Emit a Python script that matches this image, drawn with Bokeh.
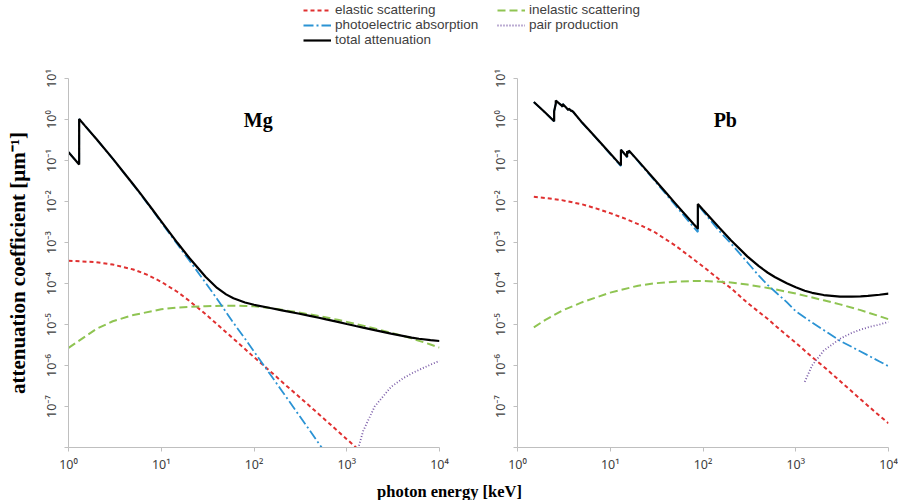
from bokeh.plotting import figure
from bokeh.layouts import column, row
from bokeh.models import FixedTicker, CustomJSTickFormatter, Label, Legend, LegendItem
from bokeh.embed import file_html
from bokeh.resources import INLINE

# ---------------- data (photon energy in keV, attenuation in 1/um) ----------------
X_TICKS = [1, 10, 100, 1000, 10000]
X_TICK_LABELS = ["10⁰", "10¹", "10²", "10³", "10⁴"]
Y_TICKS = [1e-8, 1e-7, 1e-6, 1e-5, 1e-4, 1e-3, 1e-2, 1e-1, 1e0, 1e1]
Y_TICK_LABELS = ["", "10⁻⁷", "10⁻⁶", "10⁻⁵", "10⁻⁴", "10⁻³", "10⁻²", "10⁻¹", "10⁰", "10¹"]

# Mg
MG_TOTAL_E = [1.0, 1.303, 1.303, 1.5, 2, 3, 4, 5, 6, 8, 10, 15, 20, 30, 40, 50, 60, 80, 100,
              150, 200, 300, 400, 500, 600, 800, 1000, 1250, 1500, 2000, 3000, 4000, 5000,
              6000, 8000, 10000]
MG_TOTAL = [0.160, 0.080, 1.03, 0.71, 0.334, 0.111, 0.049, 0.026, 0.0153, 0.00646, 0.00329,
            9.7e-4, 4.25e-4, 1.46e-4, 7.8e-5, 5.43e-5, 4.36e-5, 3.43e-5, 3.03e-5, 2.52e-5,
            2.22e-5, 1.85e-5, 1.62e-5, 1.46e-5, 1.33e-5, 1.16e-5, 1.03e-5, 9.2e-6, 8.4e-6,
            7.3e-6, 6.0e-6, 5.3e-6, 4.8e-6, 4.5e-6, 4.16e-6, 3.96e-6]
MG_PHOTO_E = [1.0, 1.303, 1.303, 1.5, 2, 3, 4, 5, 6, 8, 10, 15, 20, 30, 40, 50, 60, 80, 100,
              150, 200, 300, 400, 500, 600]
MG_PHOTO = [0.1596, 0.0797, 1.03, 0.709, 0.333, 0.110, 0.0485, 0.0255, 0.0149, 0.0062, 0.0031,
            8.9e-4, 3.7e-4, 1.05e-4, 4.2e-5, 2.0e-5, 1.1e-5, 4.5e-6, 2.2e-6, 6.0e-7, 2.4e-7,
            6.5e-8, 2.6e-8, 1.25e-8, 7e-9]
MG_ELASTIC_E = [1, 2, 3, 5, 7, 10, 15, 20, 30, 50, 70, 100, 150, 200, 300, 500, 700, 1000, 1500]
MG_ELASTIC = [3.6e-4, 3.3e-4, 2.9e-4, 2.2e-4, 1.65e-4, 1.1e-4, 6.2e-5, 3.8e-5, 1.8e-5, 6.5e-6,
              3.3e-6, 1.6e-6, 7.2e-7, 4.0e-7, 1.8e-7, 6.5e-8, 3.3e-8, 1.6e-8, 7e-9]
MG_INELASTIC_E = [1, 2, 3, 5, 10, 15, 20, 30, 50, 80, 100, 150, 200, 300, 500, 800, 1000, 1500,
                  2000, 3000, 5000, 8000, 10000]
MG_INELASTIC = [2.7e-6, 7.8e-6, 1.2e-5, 1.7e-5, 2.35e-5, 2.6e-5, 2.7e-5, 2.8e-5, 2.87e-5, 2.84e-5,
                2.78e-5, 2.52e-5, 2.28e-5, 1.98e-5, 1.61e-5, 1.3e-5, 1.16e-5, 9.4e-6, 8.0e-6,
                6.3e-6, 4.6e-6, 3.25e-6, 2.73e-6]
MG_PAIR_E = [1300, 1500, 2000, 3000, 4000, 5000, 6000, 8000, 10000]
MG_PAIR = [8e-9, 2.5e-8, 1.0e-7, 3.0e-7, 4.8e-7, 6.4e-7, 7.8e-7, 1.05e-6, 1.3e-6]

# Pb
PB_TOTAL_E = [1.5, 2.0, 2.484, 2.484, 2.535, 2.586, 2.586, 3.0, 3.066, 3.066, 3.301, 3.554, 3.554,
              3.7, 3.851, 3.851, 4, 5, 6, 8, 10, 13.035, 13.035, 15, 15.2, 15.2, 15.53, 15.86,
              15.86, 20, 30, 40, 50, 60, 80, 88.0, 88.0, 100, 150, 200, 300, 400, 500, 600, 800,
              1000, 1250, 1500, 2000, 3000, 4000, 5000, 6000, 8000, 10000]
PB_TOTAL = [2.67, 1.46, 0.909, 1.586, 1.959, 2.42, 2.89, 2.19, 2.05, 2.40, 2.02, 1.69, 1.85, 1.72,
            1.58, 1.65, 1.52, 0.829, 0.530, 0.260, 0.148, 0.0761, 0.184, 0.127, 0.122, 0.169,
            0.161, 0.153, 0.176, 0.098, 0.0344, 0.0163, 0.00913, 0.0057, 0.00275, 0.00217,
            0.00872, 0.0063, 0.00229, 0.00113, 4.58e-4, 2.64e-4, 1.83e-4, 1.42e-4, 1.01e-4,
            8.06e-5, 6.67e-5, 5.93e-5, 5.23e-5, 4.81e-5, 4.76e-5, 4.85e-5, 4.98e-5, 5.31e-5, 5.64e-5]
PB_PHOTO_E = [1.5, 2.0, 2.484, 2.484, 2.535, 2.586, 2.586, 3.0, 3.066, 3.066, 3.301, 3.554, 3.554,
              3.7, 3.851, 3.851, 4, 5, 6, 8, 10, 13.035, 13.035, 15, 15.2, 15.2, 15.53, 15.86,
              15.86, 20, 30, 40, 50, 60, 80, 88.0, 88.0, 100, 150, 200, 300, 400, 500, 600, 800,
              1000, 1500, 2000, 3000, 5000, 8000, 10000]
PB_PHOTO = [2.65, 1.45, 0.90, 1.575, 1.95, 2.41, 2.88, 2.18, 2.04, 2.39, 2.01, 1.68, 1.84, 1.71,
            1.57, 1.64, 1.51, 0.82, 0.524, 0.255, 0.143, 0.0732, 0.181, 0.124, 0.119, 0.166,
            0.158, 0.150, 0.173, 0.095, 0.0325, 0.0150, 0.0082, 0.0050, 0.0023, 0.0018,
            0.0083, 0.0058, 0.0019, 9.5e-4, 3.3e-4, 1.55e-4, 9.1e-5, 6.3e-5, 3.5e-5, 2.1e-5,
            1.12e-5, 7.3e-6, 4.0e-6, 2.2e-6, 1.25e-6, 9.6e-7]
PB_ELASTIC_E = [1.5, 2, 3, 5, 7, 10, 15, 20, 30, 50, 70, 100, 150, 200, 300, 500, 700, 1000, 1500,
                2000, 3000, 5000, 7000, 10000]
PB_ELASTIC = [0.013, 0.0122, 0.0108, 0.0085, 0.0068, 0.0052, 0.0037, 0.0028, 0.0018, 8.5e-4,
              4.8e-4, 2.6e-4, 1.25e-4, 7.7e-5, 3.4e-5, 1.36e-5, 7.0e-6, 3.6e-6, 1.6e-6, 9.4e-7,
              4.2e-7, 1.5e-7, 7.7e-8, 3.9e-8]
PB_INELASTIC_E = [1.5, 2, 3, 5, 10, 20, 30, 50, 80, 100, 150, 200, 300, 500, 1000, 2000, 3000,
                  5000, 10000]
PB_INELASTIC = [8.5e-6, 1.3e-5, 2.16e-5, 3.5e-5, 6.0e-5, 8.85e-5, 1.01e-4, 1.11e-4, 1.15e-4,
                1.15e-4, 1.11e-4, 1.06e-4, 9.4e-5, 7.8e-5, 5.7e-5, 3.9e-5, 3.1e-5, 2.24e-5, 1.35e-5]
PB_PAIR_E = [1250, 1500, 2000, 3000, 4000, 5000, 6000, 8000, 10000]
PB_PAIR = [4e-7, 1.0e-6, 2.3e-6, 4.5e-6, 6.2e-6, 7.5e-6, 8.5e-6, 1.0e-5, 1.15e-5]

SERIES_NAMES = ["elastic scattering", "inelastic scattering", "photoelectric absorption",
                "pair production", "total attenuation"]
PANEL_NAMES = ["Mg", "Pb"]
PANEL_NAME_POS = [(111, 1.0), (174, 1.0)]   # (keV, 1/um) where the element symbol sits

# ---------------- styles ----------------
STY = {
    "elastic scattering": dict(line_color="#e03030", line_width=2, line_dash="4 3"),
    "inelastic scattering": dict(line_color="#8fc452", line_width=2, line_dash="8 4"),
    "photoelectric absorption": dict(line_color="#2b93d4", line_width=1.8, line_dash="10 3 2 3"),
    "pair production": dict(line_color="#7b5ca8", line_width=1.8, line_dash="1 2"),
    "total attenuation": dict(line_color="#000000", line_width=2.2),
}
TICK_FONT = "Noto Sans"
LEGEND_FONT = "Liberation Sans"
SERIF = "Liberation Serif"
AXIS_GRAY = "#bfbfbf"
LABEL_COLOR = "#404040"

fmt_code = """
const lt = Math.log10(tick);
for (let i = 0; i < tv.length; i++) {
  if (Math.abs(Math.log10(tv[i]) - lt) < 1e-6) return tl[i];
}
return "";
"""


def make_panel(width, bl, br, ylabel, name, name_pos, series):
    p = figure(width=width, height=428, x_axis_type="log", y_axis_type="log",
               x_range=(1, 1e4), y_range=(1e-8, 10), toolbar_location=None,
               output_backend="svg", min_border_left=bl, min_border_right=br,
               min_border_top=26, min_border_bottom=33)
    p.outline_line_color = None
    p.grid.visible = False
    p.xaxis.ticker = FixedTicker(ticks=X_TICKS, minor_ticks=[])
    p.yaxis.ticker = FixedTicker(ticks=Y_TICKS, minor_ticks=[])
    p.xaxis.formatter = CustomJSTickFormatter(args=dict(tv=X_TICKS, tl=X_TICK_LABELS), code=fmt_code)
    p.yaxis.formatter = CustomJSTickFormatter(args=dict(tv=Y_TICKS, tl=Y_TICK_LABELS), code=fmt_code)
    for ax in (p.xaxis, p.yaxis):
        ax.axis_line_color = AXIS_GRAY
        ax.major_tick_line_color = AXIS_GRAY
        ax.minor_tick_line_color = None
        ax.major_tick_in = 0
        ax.major_tick_out = 4
        ax.major_label_text_font = TICK_FONT
        ax.major_label_text_font_size = "12.5px"
        ax.major_label_text_color = LABEL_COLOR
    p.xaxis.major_label_standoff = 4
    p.yaxis.major_label_standoff = 5
    p.yaxis.major_label_orientation = "vertical"
    if ylabel:
        p.yaxis.axis_label = ylabel
        p.yaxis.axis_label_text_font = SERIF
        p.yaxis.axis_label_text_font_style = "bold"
        p.yaxis.axis_label_text_font_size = "21px"
        p.yaxis.axis_label_text_color = "#000000"
        p.yaxis.axis_label_standoff = 10
    for key in SERIES_NAMES:
        xs, ys = series[key]
        p.line(xs, ys, **STY[key])
    p.add_layout(Label(x=name_pos[0], y=name_pos[1], text=name, text_font=SERIF,
                       text_font_style="bold", text_font_size="20px", text_align="center",
                       text_baseline="middle", text_color="#000000"))
    return p


mg_series = {
    "elastic scattering": (MG_ELASTIC_E, MG_ELASTIC),
    "inelastic scattering": (MG_INELASTIC_E, MG_INELASTIC),
    "photoelectric absorption": (MG_PHOTO_E, MG_PHOTO),
    "pair production": (MG_PAIR_E, MG_PAIR),
    "total attenuation": (MG_TOTAL_E, MG_TOTAL),
}
pb_series = {
    "elastic scattering": (PB_ELASTIC_E, PB_ELASTIC),
    "inelastic scattering": (PB_INELASTIC_E, PB_INELASTIC),
    "photoelectric absorption": (PB_PHOTO_E, PB_PHOTO),
    "pair production": (PB_PAIR_E, PB_PAIR),
    "total attenuation": (PB_TOTAL_E, PB_TOTAL),
}

left = make_panel(478, 68, 39, "attenuation coefficient [µm⁻¹]", PANEL_NAMES[0],
                  PANEL_NAME_POS[0], mg_series)
right = make_panel(420, 39, 10, None, PANEL_NAMES[1], PANEL_NAME_POS[1], pb_series)

# ---------------- legend strip ----------------
leg = figure(width=898, height=52, x_range=(0, 1), y_range=(0, 1), toolbar_location=None,
             output_backend="svg", min_border=0)
leg.axis.visible = False
leg.grid.visible = False
leg.outline_line_color = None
# single-point (hence invisible) proxy renderers that carry each series' line style
proxies = {k: leg.line([X_TICKS[-1]], [Y_TICKS[-1]], **STY[k]) for k in SERIES_NAMES}

LEGEND_SLOTS = {  # screen position (x of glyph start, y from bottom) of each legend entry
    "elastic scattering": (303, 35),
    "photoelectric absorption": (303, 20),
    "total attenuation": (303, 5),
    "inelastic scattering": (497, 35),
    "pair production": (497, 20),
}
for k in SERIES_NAMES:
    leg.add_layout(Legend(items=[LegendItem(label=k, renderers=[proxies[k]])],
                          location=LEGEND_SLOTS[k], border_line_color=None,
                          background_fill_alpha=0, padding=0, margin=0, spacing=0,
                          label_height=14, glyph_height=14, glyph_width=28, label_standoff=4,
                          label_text_font=LEGEND_FONT, label_text_font_size="13.5px",
                          label_text_color=LABEL_COLOR))

# ---------------- x title strip ----------------
xt = figure(width=898, height=20, x_range=(0, 1), y_range=(0, 1), toolbar_location=None,
            output_backend="svg", min_border=0)
xt.axis.visible = False
xt.grid.visible = False
xt.outline_line_color = None
xt.add_layout(Label(x=449, y=9, x_units="screen", y_units="screen", text="photon energy [keV]",
                    text_font=SERIF, text_font_style="bold", text_font_size="16.5px",
                    text_align="center", text_baseline="middle", text_color="#000000"))

layout = column(leg, row(left, right), xt)
open("out.html", "w").write(file_html(layout, INLINE))
